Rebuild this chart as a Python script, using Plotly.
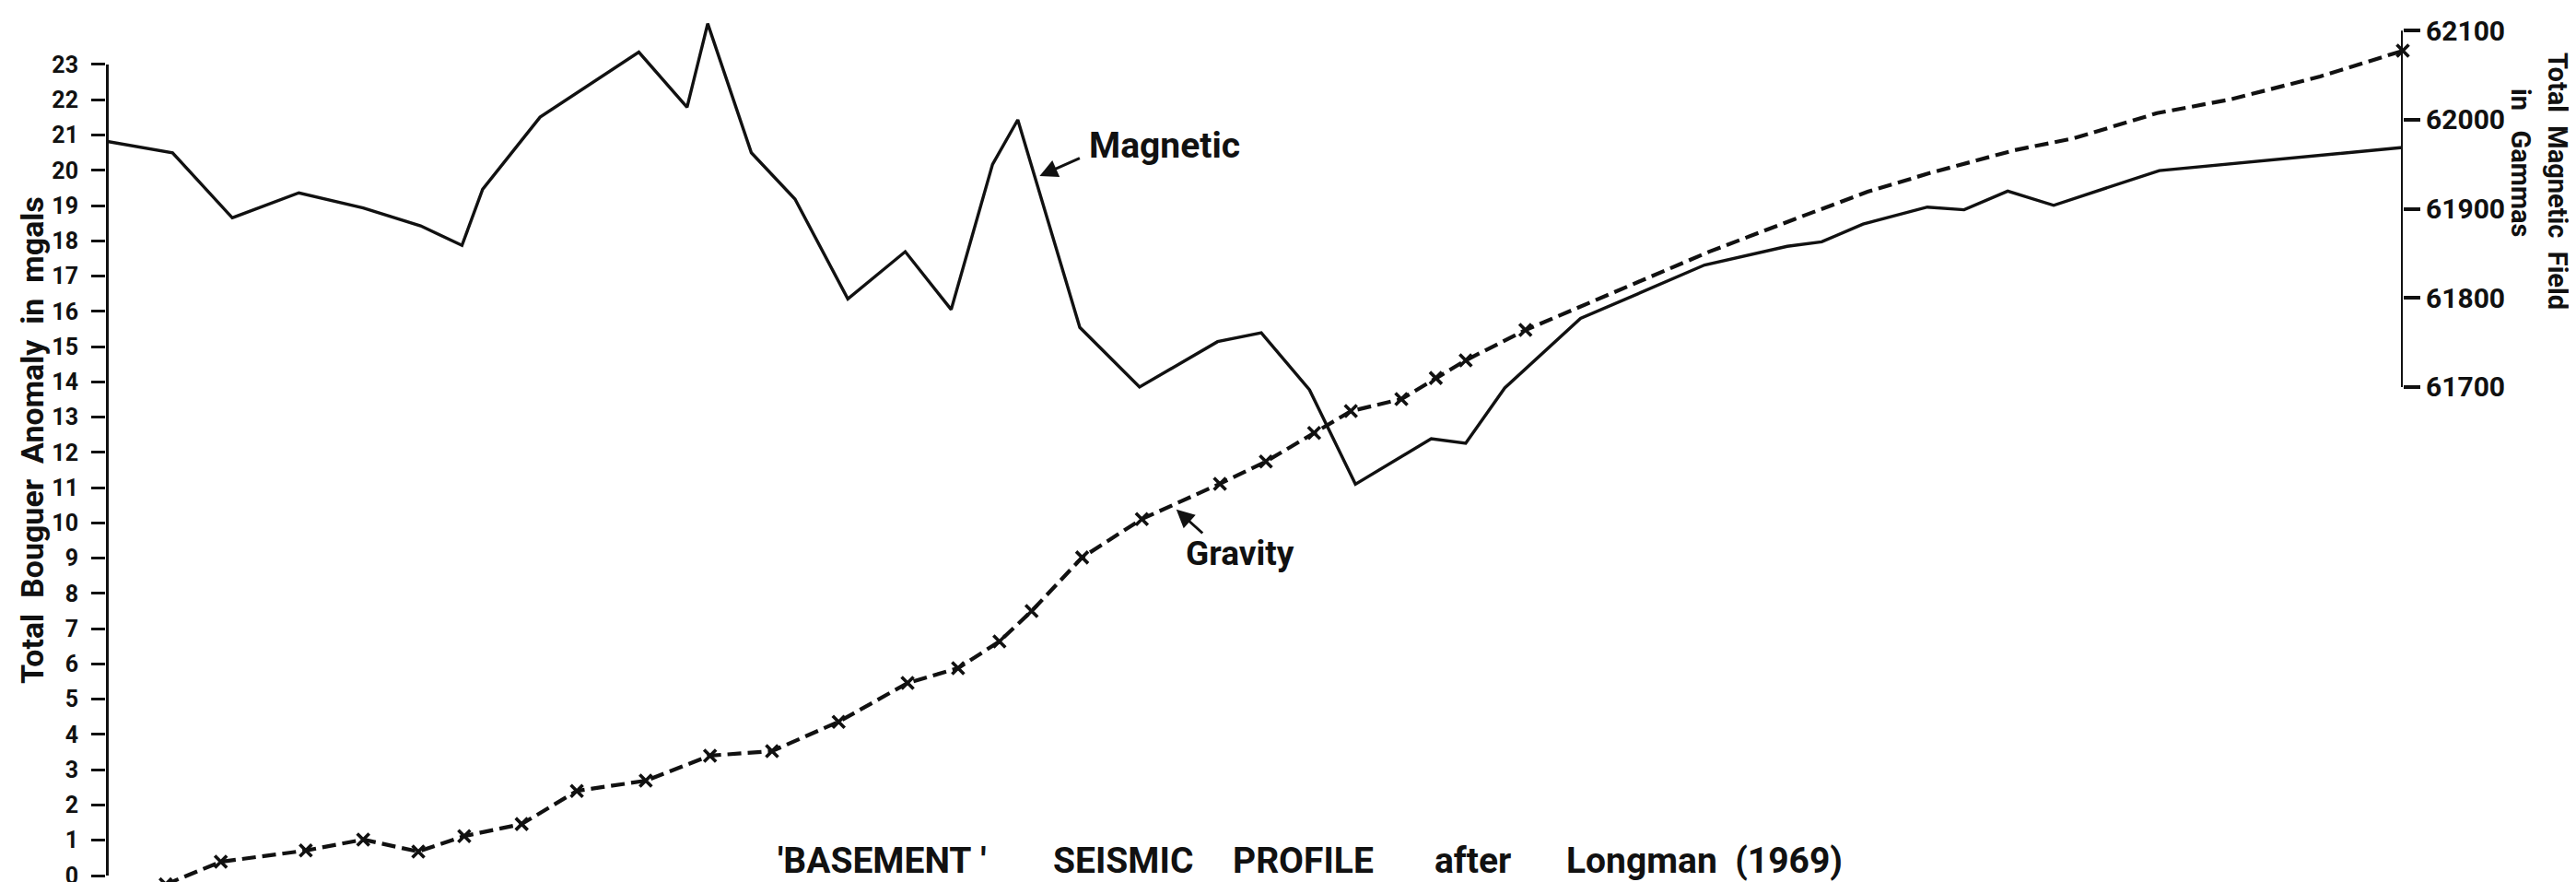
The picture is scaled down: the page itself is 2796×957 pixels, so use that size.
import plotly.graph_objects as go

# ---------------- data ----------------
# distance along profile (arbitrary units, left axis = 0, right axis = 100)
mag_dist = [0.0, 2.9, 5.5, 8.4, 11.2, 13.7, 15.5, 16.4, 18.9, 23.2, 25.3, 26.2, 28.1, 30.0,
            32.3, 34.8, 36.8, 38.6, 39.7, 42.4, 45.0, 48.4, 50.3, 52.4, 54.4, 57.7, 59.2,
            60.9, 64.2, 69.6, 73.2, 74.7, 76.5, 79.3, 80.9, 82.8, 84.8, 89.4, 100.0]
mag_gamma = [61976, 61963, 61890, 61918, 61901, 61881, 61859, 61922, 62003, 62076, 62014,
             62108, 61963, 61911, 61799, 61852, 61787, 61950, 62000, 61767, 61700, 61751,
             61761, 61697, 61591, 61642, 61637, 61699, 61777, 61837, 61858, 61863, 61883,
             61902, 61899, 61920, 61904, 61943, 61969]

grav_dist = [2.6, 5.0, 8.7, 11.2, 13.6, 15.6, 18.1, 20.5, 23.5, 26.3, 29.0, 31.9, 34.9, 37.1,
             38.9, 40.3, 42.5, 45.1, 48.5, 50.5, 52.6, 54.2, 56.4, 57.9, 59.2, 61.8, 69.8,
             73.5, 76.7, 79.4, 83.1, 85.7, 89.3, 92.5, 94.3, 96.4, 100.0]
grav_mgal = [-0.25, 0.39, 0.71, 1.02, 0.68, 1.12, 1.46, 2.40, 2.69, 3.40, 3.53, 4.36, 5.46,
             5.88, 6.64, 7.50, 9.02, 10.11, 11.11, 11.74, 12.55, 13.17, 13.51, 14.11, 14.61,
             15.47, 17.69, 18.61, 19.39, 19.92, 20.57, 20.91, 21.62, 22.01, 22.32, 22.66, 23.39]
grav_station = [True] * 26 + [False] * 10 + [True]

left_ticks = list(range(0, 24))
right_ticks = [61700, 61800, 61900, 62000, 62100]
right_ticktext = [str(t) for t in right_ticks]

NB = "\u00a0"
left_title = f"Total{NB*2}Bouguer{NB*2}Anomaly{NB*2}in{NB*2}mgals"
right_title1 = f"Total{NB*2}Magnetic{NB*2}Field"
right_title2 = f"in{NB*3}Gammas"
bottom_words = [f"'BASEMENT{NB}'", "SEISMIC", "PROFILE", "after", f"Longman{NB*2}(1969)"]

# ---------------- layout geometry ----------------
W, H = 2796, 957
ML, MR, MT, MB = 107, 196, 0, 0
PW = W - ML - MR


def paper_x(px):
    return (px - ML) / PW


def paper_y(py):
    return 1 - (py - MT) / (H - MT - MB)


FONT = "Roboto"
BLACK = "#111111"

st_x = [d for d, s in zip(grav_dist, grav_station) if s]
st_y = [v for v, s in zip(grav_mgal, grav_station) if s]

fig = go.Figure()
fig.add_trace(go.Scatter(x=mag_dist, y=mag_gamma, mode="lines", yaxis="y2",
                         line=dict(color=BLACK, width=3.4), showlegend=False))
fig.add_trace(go.Scatter(x=grav_dist, y=grav_mgal, mode="lines", yaxis="y",
                         line=dict(color=BLACK, width=4.2, dash="15px,7px"), showlegend=False))
fig.add_trace(go.Scatter(x=st_x, y=st_y, mode="markers", yaxis="y",
                         marker=dict(symbol="x-thin", size=13,
                                     line=dict(color=BLACK, width=3.6)),
                         cliponaxis=False, showlegend=False))

fig.update_layout(
    width=W, height=H, autosize=False,
    margin=dict(l=ML, r=MR, t=MT, b=MB),
    paper_bgcolor="white", plot_bgcolor="white",
    xaxis=dict(range=[0, 100], visible=False, fixedrange=True),
    yaxis=dict(range=[-0.392, 24.62], tickvals=left_ticks, ticks="outside", ticklen=15,
               tickwidth=3, tickcolor=BLACK, showgrid=False, zeroline=False,
               showline=False, automargin=False, ticklabelstandoff=9,
               tickfont=dict(family=FONT, size=25, color=BLACK, weight="bold")),
    yaxis2=dict(range=[61136.2, 62126.2], overlaying="y", side="right",
                tickvals=right_ticks, ticktext=right_ticktext, ticks="outside",
                ticklen=18, tickwidth=4, tickcolor=BLACK, showgrid=False,
                zeroline=False, showline=False, automargin=False,
                tickfont=dict(family=FONT, size=30, color=BLACK, weight="bold")),
    showlegend=False,
)

# axis spines
fig.add_shape(type="line", xref="x", yref="y", x0=0, x1=0, y0=left_ticks[0],
              y1=left_ticks[-1], line=dict(color=BLACK, width=6))
fig.add_shape(type="line", xref="x", yref="y2", x0=100, x1=100, y0=right_ticks[0],
              y1=right_ticks[-1], line=dict(color=BLACK, width=4))

ann = []
# axis titles
ann.append(dict(text=left_title, xref="paper", yref="paper", x=paper_x(27), y=paper_y(470),
                textangle=-90, showarrow=False, xanchor="center", yanchor="middle",
                font=dict(family=FONT, size=34, color=BLACK, weight="bold")))
ann.append(dict(text=right_title1, xref="paper", yref="paper", x=paper_x(2768), y=paper_y(188),
                textangle=90, showarrow=False, xanchor="center", yanchor="middle",
                font=dict(family=FONT, size=29, color=BLACK, weight="bold")))
ann.append(dict(text=right_title2, xref="paper", yref="paper", x=paper_x(2728), y=paper_y(169),
                textangle=90, showarrow=False, xanchor="center", yanchor="middle",
                font=dict(family=FONT, size=29, color=BLACK, weight="bold")))

# series labels with arrows
ann.append(dict(text="Magnetic", xref="paper", yref="paper", x=paper_x(1172), y=paper_y(150),
                showarrow=False, xanchor="left", yanchor="middle",
                font=dict(family=FONT, size=39, color=BLACK, weight="bold")))
ann.append(dict(text="", xref="x", yref="y2", x=mag_dist[18] + 0.95, y=61937,
                ax=45, ay=-20, showarrow=True, arrowhead=2, arrowsize=1.3, arrowwidth=3,
                arrowcolor=BLACK))
ann.append(dict(text="Gravity", xref="paper", yref="paper", x=paper_x(1277), y=paper_y(592),
                showarrow=False, xanchor="left", yanchor="middle",
                font=dict(family=FONT, size=37, color=BLACK, weight="bold")))
ann.append(dict(text="", xref="x", yref="y", x=46.6, y=10.38,
                ax=30, ay=27, showarrow=True, arrowhead=2, arrowsize=1.3, arrowwidth=3,
                arrowcolor=BLACK))

# bottom title
word_left_px = [834, 1133, 1328, 1547, 1690]
for w, lx in zip(bottom_words, word_left_px):
    ann.append(dict(text=w, xref="paper", yref="paper", x=paper_x(lx), y=paper_y(926),
                    showarrow=False, xanchor="left", yanchor="middle",
                    font=dict(family=FONT, size=39, color=BLACK, weight="bold")))

fig.update_layout(annotations=ann)
fig.write_html("out.html")
